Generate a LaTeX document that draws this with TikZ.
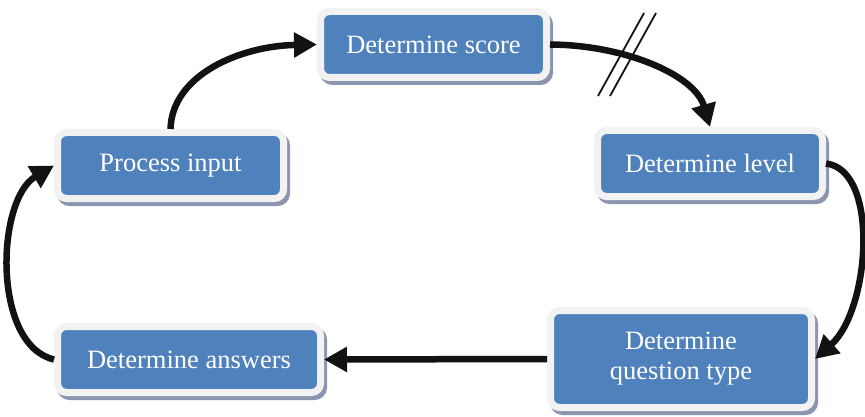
\documentclass[tikz,border=0pt]{standalone}
\usepackage{fontspec}
\setmainfont{Liberation Serif}
\usetikzlibrary{arrows.meta}
\definecolor{boxblue}{HTML}{4F81BD}
\definecolor{framegray}{HTML}{F2F2F2}
\definecolor{shadowcol}{HTML}{8C95B0}
\definecolor{arrowcol}{HTML}{121212}
\tikzset{
  stepbox/.style={
    draw=framegray, line width=7pt, fill=boxblue, rounded corners=9pt,
    text=white, font=\fontsize{26.5}{30}\selectfont, align=center,
    inner sep=0pt,
    preaction={draw=shadowcol, fill=shadowcol, line width=7pt,
      transform canvas={shift={(3pt,-4pt)}}}
  },
  flow/.style={draw=arrowcol, line width=6.5pt,
    -{Triangle[length=23pt,width=24pt]}},
  slash/.style={draw=arrowcol, line width=1.8pt}
}
\begin{document}
\begin{tikzpicture}[x=1pt,y=-1pt]
\useasboundingbox (0,0) rectangle (865,417);
\node[stepbox, minimum width=226pt, minimum height=66pt] (score) at (433.5,44.5) {Determine score};
\node[stepbox, minimum width=226pt, minimum height=66pt] (process) at (170.5,165.5) {Process input};
\node[stepbox, minimum width=225pt, minimum height=66pt] (level) at (710,163.5) {Determine level};
\node[stepbox, minimum width=261pt, minimum height=97pt] (qtype) at (681,359) {Determine\\question type};
\node[stepbox, minimum width=263pt, minimum height=66pt] (answers) at (189,359.5) {Determine answers};

\draw[flow] (process.north) .. controls (172,75) and (240,46) .. (score.west);
\draw[flow] (score.east) .. controls (625,45) and (695,75) .. (level.north);
\draw[flow] (level.east) .. controls (880,170) and (870,310) .. (qtype.east);
\draw[flow] (qtype.west) -- (answers.east);
\draw[flow] (answers.west) .. controls (-8,345) and (-4,200) .. (process.west);

\coordinate (s1a) at (598,96);
\coordinate (s1b) at (644,13);
\coordinate (s2a) at (610,96);
\coordinate (s2b) at (656,13);
\draw[slash] (s1a) -- (s1b);
\draw[slash] (s2a) -- (s2b);
\end{tikzpicture}
\end{document}
